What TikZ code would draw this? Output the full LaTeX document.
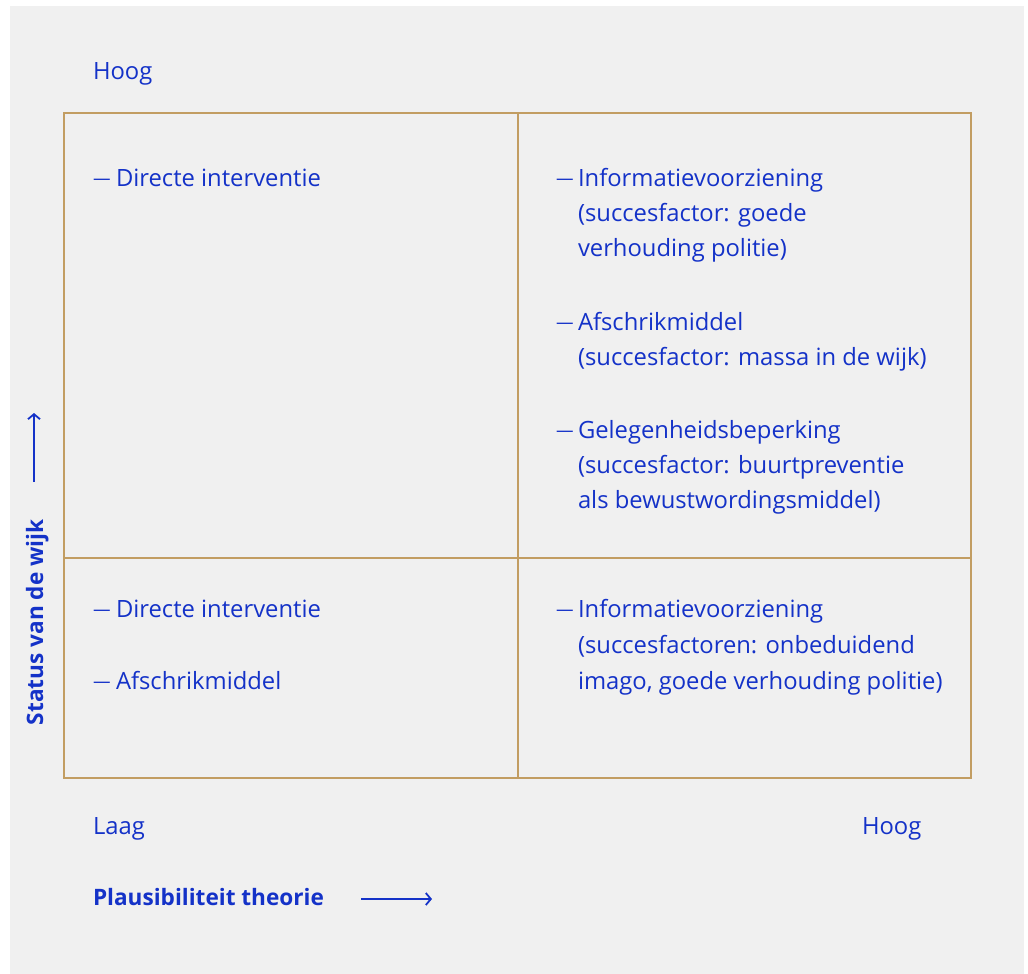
\documentclass[tikz,border=0pt]{standalone}
\usepackage{fontspec}
\setmainfont{Open Sans}
\usetikzlibrary{arrows.meta}
\definecolor{bg}{HTML}{F0F0F0}
\definecolor{txt}{HTML}{1432C8}
\definecolor{gridc}{HTML}{C29D62}
\begin{document}
\begin{tikzpicture}[x=1pt,y=-1pt,
  every node/.style={inner sep=0pt, outer sep=0pt, text=txt, font=\fontsize{23.8}{35}\selectfont},
  lbl/.style={anchor=base west},
  dashlbl/.style={anchor=base west, font=\fontsize{17.5}{20}\selectfont, yshift=1.5pt},
  boldlbl/.style={anchor=base west, font=\fontsize{22.6}{35}\selectfont\bfseries},
  gridline/.style={draw=gridc, line width=1.5pt},
  axisarrow/.style={draw=txt, line width=1.8pt, -{Straight Barb[length=5pt,width=12pt]}}]
\fill[white] (0,0) rectangle (1028,974);
\useasboundingbox (0,0) rectangle (1028,974);
\fill[bg] (10,6) rectangle (1024,974);
% grid
\coordinate (tl) at (64,113);
\coordinate (br) at (971,778);
\coordinate (vt) at (518,113);
\coordinate (vb) at (518,778);
\coordinate (hl) at (64,558);
\coordinate (hr) at (971,558);
\draw[gridline] (tl) rectangle (br);
\draw[gridline] (vt) -- (vb);
\draw[gridline] (hl) -- (hr);
% axis labels
\node[lbl] (hoogtop) at (93,79) {Hoog};
\node[lbl] (laag) at (93,834) {Laag};
\node[lbl] (hoogright) at (862,834) {Hoog};
\node[boldlbl] (xlabel) at (93,905) {Plausibiliteit theorie};
\coordinate (xa1) at (361,899);
\coordinate (xa2) at (432,899);
\draw[axisarrow] (xa1) -- (xa2);
\node[boldlbl, rotate=90] (ylabel) at (43,725) {Status van de wijk};
\coordinate (ya1) at (34,482);
\coordinate (ya2) at (34,413);
\draw[axisarrow] (ya1) -- (ya2);
% top-left quadrant
\node[dashlbl] (d1) at (93,186) {—};
\node[lbl] (t1) at (116,186) {Directe interventie};
% top-right quadrant
\node[dashlbl] (d2) at (556,186) {—};
\node[lbl] (t2a) at (578,186) {Informatievoorziening};
\node[lbl] (t2b) at (578,221) {(succesfactor: goede};
\node[lbl] (t2c) at (578,256) {verhouding politie)};
\node[dashlbl] (d3) at (556,330) {—};
\node[lbl] (t3a) at (578,330) {Afschrikmiddel};
\node[lbl] (t3b) at (578,365) {(succesfactor: massa in de wijk)};
\node[dashlbl] (d4) at (556,438) {—};
\node[lbl] (t4a) at (578,438) {Gelegenheidsbeperking};
\node[lbl] (t4b) at (578,473) {(succesfactor: buurtpreventie};
\node[lbl] (t4c) at (578,508) {als bewustwordingsmiddel)};
% bottom-left quadrant
\node[dashlbl] (d5) at (93,617) {—};
\node[lbl] (t5) at (116,617) {Directe interventie};
\node[dashlbl] (d6) at (93,689) {—};
\node[lbl] (t6) at (116,689) {Afschrikmiddel};
% bottom-right quadrant
\node[dashlbl] (d7) at (556,617) {—};
\node[lbl] (t7a) at (578,617) {Informatievoorziening};
\node[lbl] (t7b) at (578,653) {(succesfactoren: onbeduidend};
\node[lbl] (t7c) at (578,689) {imago, goede verhouding politie)};
\end{tikzpicture}
\end{document}
